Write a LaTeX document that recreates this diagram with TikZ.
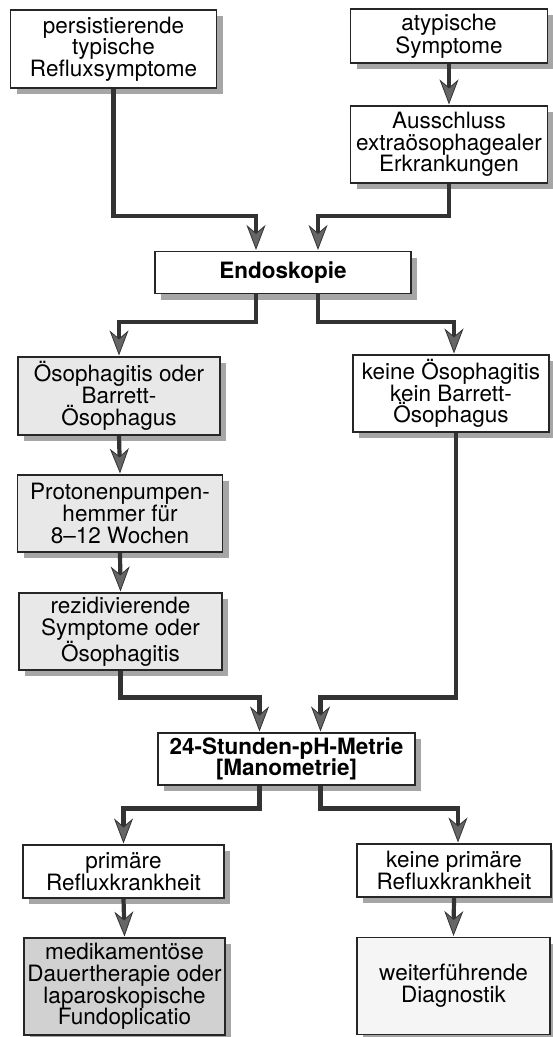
\documentclass[tikz,border=0pt]{standalone}
\usepackage{fontspec}
\setmainfont{TeX Gyre Heros}
\usetikzlibrary{arrows.meta,shadows}

\begin{document}
\begin{tikzpicture}[x=1pt,y=-1pt,
	box/.style={draw=black!85,line width=1.1pt,fill=white,align=center,inner sep=0pt,
		font=\fontsize{22.5}{21.7}\selectfont,
		drop shadow={shadow xshift=6pt,shadow yshift=-6pt,fill=black!35,opacity=1}},
	lgbox/.style={box,fill=black!9},
	dgbox/.style={box,fill=black!18},
	flow/.style={draw=black!80,line width=4.2pt,
		-{Stealth[length=25pt,width=19pt,inset=8pt,line width=0.8pt,fill=black!60]}}]

	\useasboundingbox (0,0) rectangle (552,1037);

	% boxes
	\node[box,minimum width=206pt,minimum height=78pt] (typ) at (113.5,49) {persistierende\\typische\\Refluxsymptome};
	\node[box,minimum width=197pt,minimum height=54pt] (atyp) at (449,36) {atypische\\Symptome};
	\node[box,minimum width=197pt,minimum height=77pt] (aus) at (449,144.5) {Ausschluss\\extraösophagealer\\Erkrankungen};
	\node[box,minimum width=256pt,minimum height=42pt,font=\fontsize{22.5}{21.7}\selectfont\bfseries] (endo) at (283,272.5) {Endoskopie};

	\node[lgbox,minimum width=202pt,minimum height=78pt] (oe1) at (119,396) {Ösophagitis oder\\Barrett-\\Ösophagus};
	\node[box,minimum width=196pt,minimum height=77pt] (oe0) at (451,393.5) {keine Ösophagitis\\kein Barrett-\\Ösophagus};
	\node[lgbox,minimum width=205pt,minimum height=77pt] (ppi) at (120,513.5) {Protonenpumpen-\\hemmer für\\8–12 Wochen};
	\node[lgbox,minimum width=203pt,minimum height=77pt] (rez) at (120.5,631.5) {rezidivierende\\Symptome oder\\Ösophagitis};

	\node[box,minimum width=257pt,minimum height=52pt,font=\fontsize{22.5}{21.7}\selectfont\bfseries] (ph) at (286.5,759) {24-Stunden-pH-Metrie\\{[}Manometrie{]}};

	\node[box,minimum width=201pt,minimum height=53pt] (prim1) at (123.5,871.5) {primäre\\Refluxkrankheit};
	\node[box,minimum width=194pt,minimum height=53pt] (prim0) at (454,870.5) {keine primäre\\Refluxkrankheit};
	\node[dgbox,minimum width=201pt,minimum height=97pt] (ther) at (124.5,986.5) {medikamentöse\\Dauertherapie oder\\laparoskopische\\Fundoplicatio};
	\node[box,fill=black!4,minimum width=193pt,minimum height=97pt] (diag) at (453.5,986) {weiterführende\\Diagnostik};

	% connectors
	\draw[flow] (typ.south) |- ([xshift=-27pt,yshift=35pt]endo.north) -- ([xshift=-27pt,yshift=1pt]endo.north);
	\draw[flow] (atyp.south) -- ([yshift=1pt]aus.north);
	\draw[flow] (aus.south) |- ([xshift=35pt,yshift=35pt]endo.north) -- ([xshift=35pt,yshift=1pt]endo.north);

	\draw[flow] ([xshift=-27pt]endo.south) -- ++(0,28) -| ([yshift=1pt]oe1.north);
	\draw[flow] ([xshift=35pt]endo.south) -- ++(0,28) -| ([xshift=3pt,yshift=1pt]oe0.north);
	\draw[flow] (oe1.south) -- ([yshift=1pt]ppi.north);
	\draw[flow] (ppi.south) -- ([yshift=1pt]rez.north);

	\draw[flow] (rez.south) -- ++(0,27) -| ([xshift=-27pt,yshift=1pt]ph.north);
	\draw[flow] ([xshift=5pt]oe0.south) -- ++(0,265) -| ([xshift=34pt,yshift=1pt]ph.north);

	\draw[flow] ([xshift=-27pt]ph.south) -- ++(0,23) -| ([yshift=1pt]prim1.north);
	\draw[flow] ([xshift=34pt]ph.south) -- ++(0,23) -| ([xshift=4pt,yshift=1pt]prim0.north);
	\draw[flow] (prim1.south) -- ([yshift=1pt]ther.north);
	\draw[flow] (prim0.south) -- ([yshift=1pt]diag.north);

\end{tikzpicture}
\end{document}
